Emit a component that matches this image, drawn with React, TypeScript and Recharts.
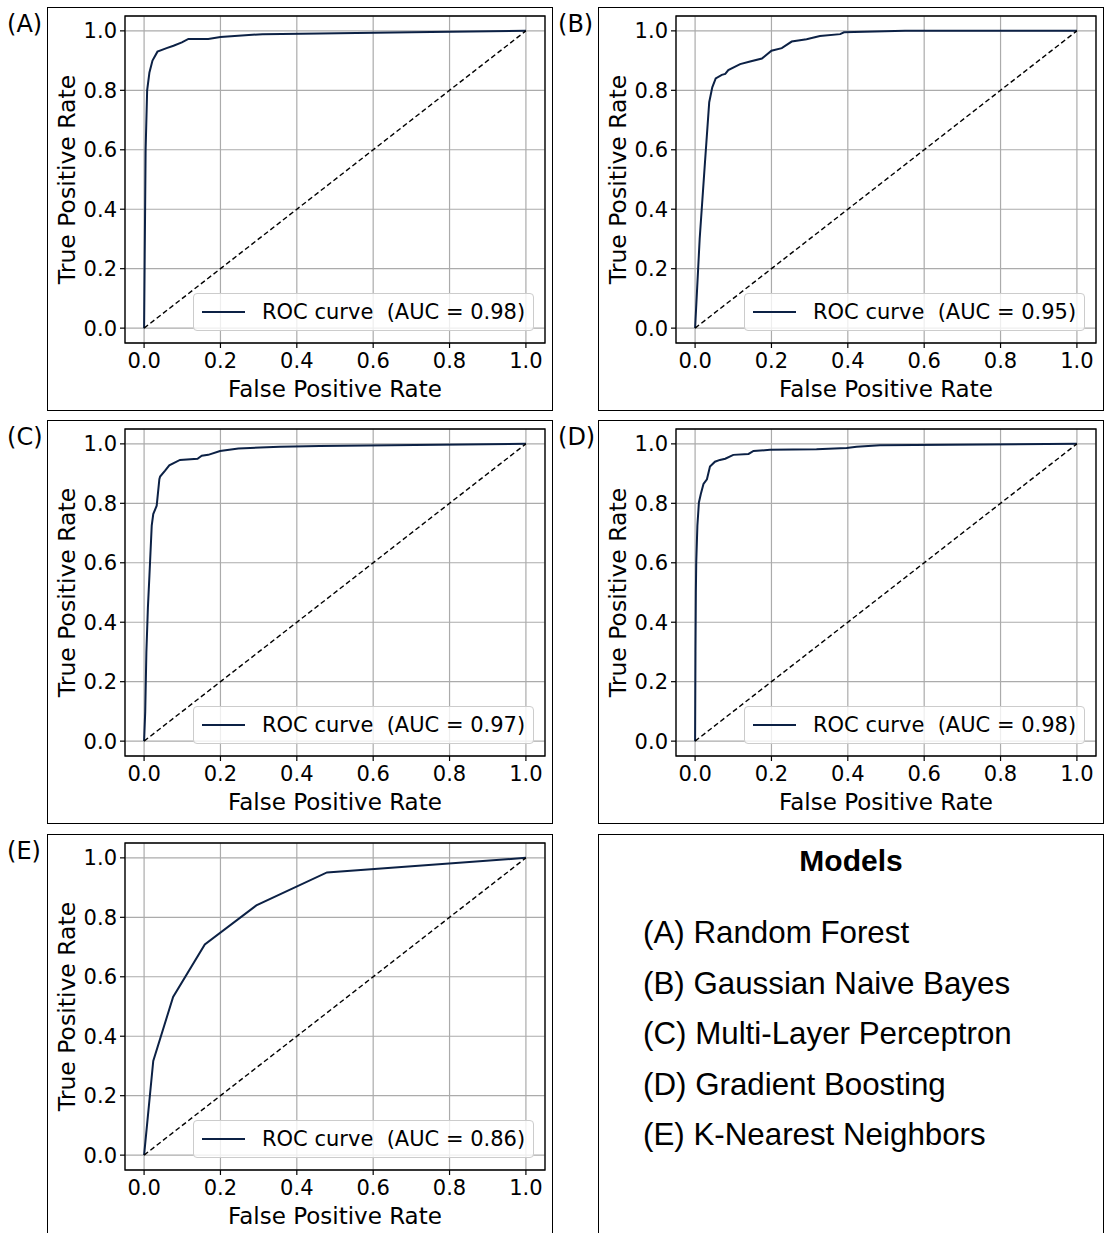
import React from 'react';
import { LineChart, Line, XAxis, YAxis, CartesianGrid, ReferenceArea } from 'recharts';

// panel letters, model names and AUC scores (same order)
const LETTERS = ['A', 'B', 'C', 'D', 'E'];
const MODEL_NAMES = [
  'Random Forest',
  'Gaussian Naive Bayes',
  'Multi-Layer Perceptron',
  'Gradient Boosting',
  'K-Nearest Neighbors',
];
const AUC = [0.98, 0.95, 0.97, 0.98, 0.86];

// ROC points
const RF_FPR = [0, 0.002, 0.004, 0.008, 0.014, 0.022, 0.035, 0.059, 0.077, 0.099, 0.116, 0.168, 0.2, 0.31, 0.46, 0.7, 1];
const RF_TPR = [0, 0.3, 0.6, 0.8, 0.86, 0.9, 0.93, 0.942, 0.95, 0.961, 0.973, 0.973, 0.979, 0.989, 0.991, 0.995, 1];

const GNB_FPR = [0, 0.012, 0.026, 0.037, 0.045, 0.054, 0.07, 0.079, 0.087, 0.118, 0.144, 0.175, 0.2, 0.227, 0.253, 0.292, 0.327, 0.38, 0.39, 0.55, 1];
const GNB_TPR = [0, 0.3, 0.56, 0.76, 0.81, 0.84, 0.852, 0.855, 0.868, 0.888, 0.897, 0.907, 0.933, 0.942, 0.964, 0.972, 0.983, 0.989, 0.995, 1, 1];

const MLP_FPR = [0, 0.003, 0.006, 0.01, 0.014, 0.02, 0.024, 0.033, 0.04, 0.042, 0.055, 0.066, 0.094, 0.14, 0.151, 0.168, 0.199, 0.247, 0.304, 0.356, 0.46, 1];
const MLP_TPR = [0, 0.1, 0.3, 0.45, 0.557, 0.725, 0.764, 0.792, 0.881, 0.89, 0.91, 0.928, 0.946, 0.95, 0.96, 0.963, 0.976, 0.984, 0.988, 0.99, 0.993, 1];

const GB_FPR = [0, 0.001, 0.002, 0.003, 0.006, 0.01, 0.015, 0.022, 0.031, 0.039, 0.052, 0.065, 0.079, 0.1, 0.14, 0.153, 0.196, 0.318, 0.397, 0.423, 0.484, 1];
const GB_TPR = [0, 0.3, 0.5, 0.6, 0.725, 0.803, 0.831, 0.865, 0.881, 0.924, 0.94, 0.946, 0.95, 0.963, 0.966, 0.976, 0.98, 0.982, 0.986, 0.99, 0.995, 1];

const KNN_FPR = [0, 0.024, 0.076, 0.159, 0.294, 0.479, 1];
const KNN_TPR = [0, 0.317, 0.532, 0.709, 0.84, 0.951, 1];

// chance diagonal
const CHANCE_FPR = [0, 1];
const CHANCE_TPR = [0, 1];

const AXIS_TICKS = [0, 0.2, 0.4, 0.6, 0.8, 1.0];
const AXIS_DOMAIN: [number, number] = [-0.05, 1.05];

const CURVES = [
  [RF_FPR, RF_TPR],
  [GNB_FPR, GNB_TPR],
  [MLP_FPR, MLP_TPR],
  [GB_FPR, GB_TPR],
  [KNN_FPR, KNN_TPR],
];

const NAVY = '#0c2145';
const GRID = '#ababab';
const FONT = '"DejaVu Sans", sans-serif';

const PANEL_W = 506;
const PANEL_H = 404;
const COL_X = [47, 598];
const ROW_Y = [7, 420, 834];

const toPoints = (fpr: number[], tpr: number[]) => fpr.map((x, i) => ({ x, y: tpr[i] }));
const fmt = (v: number) => v.toFixed(1);

const tickStyle = { fontSize: 21, fill: '#000', fontFamily: FONT };

function RocPanel({ fpr, tpr, auc }: { fpr: number[]; tpr: number[]; auc: number }) {
  const roc = toPoints(fpr, tpr);
  const chance = toPoints(CHANCE_FPR, CHANCE_TPR);
  return (
    <div style={{ position: 'absolute', left: 0, top: 0, width: PANEL_W, height: PANEL_H }}>
      <div style={{ position: 'absolute', inset: 0, border: '1.5px solid #000', boxSizing: 'border-box' }} />
      <LineChart width={PANEL_W} height={PANEL_H} margin={{ top: 9, right: 8, left: 0, bottom: 0 }}>
        <CartesianGrid stroke={GRID} strokeWidth={1.2} />
        <XAxis
          type="number"
          dataKey="x"
          domain={AXIS_DOMAIN}
          ticks={AXIS_TICKS}
          allowDataOverflow
          height={68}
          tickFormatter={fmt}
          tick={tickStyle}
          tickSize={5}
          tickMargin={5}
          axisLine={false}
          tickLine={{ stroke: '#000', strokeWidth: 1.2 }}
          label={{ value: 'False Positive Rate', position: 'insideBottom', offset: 14, fontSize: 23, fill: '#000', fontFamily: FONT }}
        />
        <YAxis
          type="number"
          domain={AXIS_DOMAIN}
          ticks={AXIS_TICKS}
          allowDataOverflow
          width={78}
          tickFormatter={fmt}
          tick={tickStyle}
          tickSize={5}
          tickMargin={3}
          axisLine={false}
          tickLine={{ stroke: '#000', strokeWidth: 1.2 }}
          label={{
            value: 'True Positive Rate',
            angle: -90,
            position: 'insideLeft',
            offset: 20,
            fontSize: 23.5,
            fill: '#000',
            fontFamily: FONT,
            style: { textAnchor: 'middle' },
          }}
        />
        <ReferenceArea
          x1={AXIS_DOMAIN[0]}
          x2={AXIS_DOMAIN[1]}
          y1={AXIS_DOMAIN[0]}
          y2={AXIS_DOMAIN[1]}
          fill="none"
          stroke="#000"
          strokeWidth={1.3}
          ifOverflow="visible"
        />
        <Line data={roc} dataKey="y" type="linear" stroke={NAVY} strokeWidth={2} dot={false} isAnimationActive={false} />
        <Line
          data={chance}
          dataKey="y"
          type="linear"
          stroke="#000"
          strokeWidth={1.4}
          strokeDasharray="5 3"
          dot={false}
          isAnimationActive={false}
        />
      </LineChart>
      <div
        style={{
          position: 'absolute',
          left: 146,
          top: 286,
          width: 341,
          height: 38,
          boxSizing: 'border-box',
          border: '1px solid #cccccc',
          borderRadius: 4,
          background: 'rgba(255,255,255,0.8)',
          display: 'flex',
          alignItems: 'center',
          paddingLeft: 8,
          fontFamily: FONT,
          fontSize: 21,
          color: '#000',
        }}
      >
        <span style={{ display: 'inline-block', width: 43, height: 2, background: NAVY }} />
        <span style={{ marginLeft: 17, whiteSpace: 'pre' }}>{`ROC curve  (AUC = ${auc.toFixed(2)})`}</span>
      </div>
    </div>
  );
}

export default function App() {
  return (
    <div
      style={{
        position: 'absolute',
        left: 0,
        top: 0,
        width: 1105,
        height: 1233,
        overflow: 'hidden',
        background: '#fff',
      }}
    >
      {CURVES.map(([fpr, tpr], i) => {
        const col = i % 2;
        const row = Math.floor(i / 2);
        return (
          <React.Fragment key={LETTERS[i]}>
            <div
              style={{
                position: 'absolute',
                left: COL_X[col] - 40,
                top: ROW_Y[row] + 5,
                fontFamily: FONT,
                fontSize: 24,
                lineHeight: '24px',
                color: '#000',
              }}
            >
              ({LETTERS[i]})
            </div>
            <div style={{ position: 'absolute', left: COL_X[col], top: ROW_Y[row], width: PANEL_W, height: PANEL_H }}>
              <RocPanel fpr={fpr} tpr={tpr} auc={AUC[i]} />
            </div>
          </React.Fragment>
        );
      })}
      <div
        style={{
          position: 'absolute',
          left: COL_X[1],
          top: ROW_Y[2],
          width: PANEL_W,
          height: PANEL_H,
          boxSizing: 'border-box',
          border: '1.5px solid #000',
          fontFamily: '"Liberation Sans", Arial, sans-serif',
          color: '#000',
        }}
      >
        <div style={{ position: 'absolute', left: 0, right: 0, top: 6, textAlign: 'center', fontWeight: 'bold', fontSize: 30, lineHeight: '40px' }}>
          Models
        </div>
        {MODEL_NAMES.map((name, i) => (
          <div
            key={name}
            style={{ position: 'absolute', left: 44, top: 73 + i * 50.5, fontSize: 31.3, lineHeight: '50px', whiteSpace: 'nowrap' }}
          >
            ({LETTERS[i]}) {name}
          </div>
        ))}
      </div>
    </div>
  );
}
